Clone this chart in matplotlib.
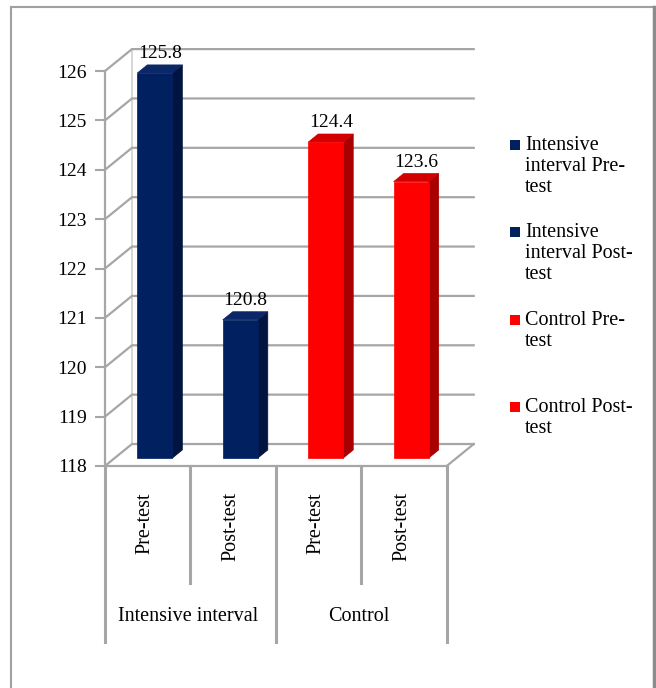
import matplotlib.pyplot as plt
from matplotlib.patches import Polygon, Rectangle
from matplotlib.lines import Line2D
import matplotlib.transforms as mtransforms

plt.rcParams['font.family'] = ['Liberation Serif', 'DejaVu Serif']

# ---------------------------------------------------------
# data
# ---------------------------------------------------------
groups = ["Intensive interval", "Control"]
phases = ["Pre-test", "Post-test"]
values = [125.8, 120.8, 124.4, 123.6]
series_labels = ["Intensive\ninterval Pre-\ntest",
                 "Intensive\ninterval Post-\ntest",
                 "Control Pre-\ntest",
                 "Control Post-\ntest"]
y_min, y_max = 118, 126

# face colours per bar: (front, side, top)
navy = ("#002060", "#00143F", "#0B2767")
red = ("#FF0000", "#A80000", "#D20000")
bar_colors = [navy, navy, red, red]

GRID = "#A6A6A6"

# oblique projection of the 3d box (depth z from 0 to 1)
DX, DY = 0.316, 0.445


def proj(x, y, z):
    return (x + z * DX, y + z * DY)


fig = plt.figure(figsize=(6.56, 6.88), dpi=100)
ax = fig.add_axes([0.160, 0.3227, 0.521, 0.574])
ax.set_xlim(0, 4)
ax.set_ylim(y_min, y_max)
ax.patch.set_visible(False)

# ---------------------------------------------------------
# walls and floor
# ---------------------------------------------------------
for v in range(y_min, y_max + 1):
    pts = [proj(0, v, 0), proj(0, v, 1), proj(4, v, 1)]
    ax.plot([p[0] for p in pts], [p[1] for p in pts], color=GRID,
            lw=1.6, clip_on=False, zorder=1, solid_joinstyle="miter")

p0, p1 = proj(0, y_min, 1), proj(0, y_max, 1)
ax.plot([p0[0], p1[0]], [p0[1], p1[1]], color="#D0D0D0", lw=1.2,
        clip_on=False, zorder=0.9)
p0, p1 = proj(4, y_min, 0), proj(4, y_min, 1)
ax.plot([p0[0], p1[0]], [p0[1], p1[1]], color=GRID, lw=1.6,
        clip_on=False, zorder=1)

# ---------------------------------------------------------
# bars
# ---------------------------------------------------------
zf, zb = 0.36, 0.73
half = 0.205
for i, (v, (c_front, c_side, c_top)) in enumerate(zip(values, bar_colors)):
    xc = i + 0.47
    x0, x1 = xc - half, xc + half
    front = [proj(x0, y_min, zf), proj(x1, y_min, zf),
             proj(x1, v, zf), proj(x0, v, zf)]
    side = [proj(x1, y_min, zf), proj(x1, y_min, zb),
            proj(x1, v, zb), proj(x1, v, zf)]
    top = [proj(x0, v, zf), proj(x1, v, zf),
           proj(x1, v, zb), proj(x0, v, zb)]
    for poly, c in ((side, c_side), (top, c_top), (front, c_front)):
        ax.add_patch(Polygon(poly, closed=True, facecolor=c,
                             edgecolor=c, lw=0.5, clip_on=False, zorder=3))
    # value label above the middle of the top face
    lx = xc + 0.5 * (zf + zb) * DX
    ly = v + zb * DY
    ax.annotate(f"{v:.1f}", (lx, ly), xytext=(0, 5),
                textcoords="offset points", ha="center", va="baseline",
                fontsize=14, zorder=5, annotation_clip=False)

# ---------------------------------------------------------
# axes, ticks
# ---------------------------------------------------------
for s in ("top", "right"):
    ax.spines[s].set_visible(False)
for s in ("left", "bottom"):
    ax.spines[s].set_color(GRID)
    ax.spines[s].set_linewidth(1.6)
    ax.spines[s].set_zorder(2)

ax.set_yticks(range(y_min, y_max + 1))
ax.tick_params(axis="y", direction="out", length=7, width=1.5,
               color=GRID, labelsize=14, pad=6)
ax.set_xticks([])

# two-level category axis
tr = mtransforms.blended_transform_factory(ax.transData, ax.transAxes)
for k in range(5):
    depth = -0.446 if k % 2 == 0 else -0.296
    ax.add_line(Line2D([k, k], [0, depth], transform=tr, color=GRID,
                       lw=2.2, clip_on=False))
for i in range(4):
    ax.text(i + 0.47, -0.066, phases[i % 2], transform=tr, rotation=90,
            ha="center", va="top", fontsize=14.5)
for g, name in enumerate(groups):
    ax.text(2 * g + 0.97, -0.382, name, transform=tr, ha="center",
            va="center", fontsize=14.5)

# ---------------------------------------------------------
# legend
# ---------------------------------------------------------
W, H = 656.0, 688.0
entry_top = [136, 223, 311, 398]
for lab, (c, _, _), t in zip(series_labels, bar_colors, entry_top):
    fig.patches.append(Rectangle((510 / W, 1 - (t + 14) / H), 10 / W, 10 / H,
                                 transform=fig.transFigure,
                                 facecolor=c, edgecolor="none"))
    fig.text(525 / W, 1 - t / H, lab, ha="left", va="top", fontsize=14.5,
             linespacing=1.16)

# ---------------------------------------------------------
# outer frame
# ---------------------------------------------------------
fig.add_artist(Line2D([11 / W, 11 / W], [0, 1 - 7 / H], color="#A0A0A0",
                      lw=1.5, transform=fig.transFigure))
fig.add_artist(Line2D([11 / W, 654 / W], [1 - 7 / H, 1 - 7 / H],
                      color="#A0A0A0", lw=1.5, transform=fig.transFigure))
fig.add_artist(Line2D([653.5 / W, 653.5 / W], [0, 1 - 7 / H],
                      color="#8C8C8C", lw=2.5, transform=fig.transFigure))

fig.savefig("out.png", dpi=100)
